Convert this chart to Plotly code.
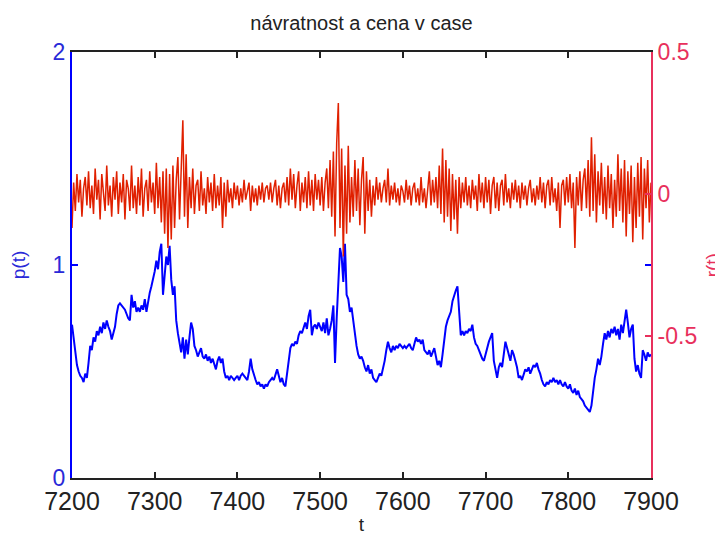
import plotly.graph_objects as go

# time axis: every second step from 7200 to 7900
t_start, t_step = 7200, 2

# price p(t)
price = [
    0.72, 0.66, 0.58, 0.53, 0.50, 0.48, 0.47, 0.45, 0.49, 0.47,
    0.54, 0.62, 0.60, 0.66, 0.64, 0.69, 0.67, 0.71, 0.68, 0.73,
    0.70, 0.74, 0.71, 0.69, 0.65, 0.68, 0.71, 0.77, 0.81, 0.82,
    0.81, 0.80, 0.79, 0.77, 0.75, 0.74, 0.86, 0.80, 0.83, 0.78,
    0.80, 0.78, 0.81, 0.79, 0.84, 0.78, 0.83, 0.87, 0.90, 0.93,
    0.97, 1.02, 0.98, 1.06, 1.10, 0.86, 0.95, 1.04, 1.00, 1.09,
    0.93, 0.86, 0.90, 0.74, 0.68, 0.63, 0.59, 0.66, 0.56, 0.65,
    0.58, 0.66, 0.73, 0.70, 0.62, 0.60, 0.57, 0.59, 0.61, 0.57,
    0.56, 0.58, 0.55, 0.57, 0.54, 0.56, 0.53, 0.51, 0.55, 0.57,
    0.54, 0.56, 0.50, 0.47, 0.48, 0.46, 0.48, 0.47, 0.46, 0.47,
    0.48, 0.46, 0.48, 0.49, 0.48, 0.47, 0.46, 0.50, 0.56, 0.51,
    0.48, 0.46, 0.44, 0.45, 0.43, 0.44, 0.42, 0.44, 0.43, 0.45,
    0.46, 0.47, 0.46, 0.49, 0.51, 0.48, 0.45, 0.47, 0.44, 0.43,
    0.50, 0.56, 0.61, 0.63, 0.62, 0.64, 0.63, 0.67, 0.69, 0.68,
    0.71, 0.73, 0.70, 0.76, 0.79, 0.67, 0.71, 0.72, 0.70, 0.73,
    0.71, 0.69, 0.73, 0.68, 0.75, 0.67, 0.70, 0.74, 0.81, 0.54,
    0.75, 0.96, 1.08, 1.04, 0.92, 1.10, 0.86, 0.84, 0.78, 0.80,
    0.74, 0.66, 0.62, 0.58, 0.56, 0.57, 0.55, 0.52, 0.50, 0.53,
    0.49, 0.51, 0.47, 0.46, 0.45, 0.47, 0.49, 0.48, 0.51, 0.55,
    0.60, 0.64, 0.61, 0.59, 0.62, 0.60, 0.62, 0.61, 0.63, 0.62,
    0.61, 0.62, 0.61, 0.62, 0.63, 0.61, 0.60, 0.63, 0.66, 0.64,
    0.65, 0.63, 0.65, 0.60, 0.59, 0.58, 0.60, 0.57, 0.59, 0.61,
    0.57, 0.53, 0.55, 0.52, 0.58, 0.66, 0.71, 0.74, 0.76, 0.78,
    0.83, 0.86, 0.88, 0.90, 0.78, 0.67, 0.69, 0.67, 0.69, 0.68,
    0.70, 0.69, 0.72, 0.66, 0.63, 0.62, 0.60, 0.58, 0.56, 0.55,
    0.58, 0.62, 0.64, 0.66, 0.68, 0.55, 0.50, 0.47, 0.52, 0.54,
    0.52, 0.58, 0.64, 0.61, 0.58, 0.55, 0.60, 0.58, 0.55, 0.52,
    0.47, 0.48, 0.46, 0.49, 0.51, 0.50, 0.52, 0.49, 0.51, 0.53,
    0.52, 0.54, 0.51, 0.49, 0.46, 0.44, 0.43, 0.45, 0.44, 0.46,
    0.45, 0.47, 0.45, 0.46, 0.44, 0.46, 0.44, 0.43, 0.45, 0.43,
    0.42, 0.44, 0.41, 0.40, 0.42, 0.39, 0.41, 0.38, 0.37, 0.36,
    0.34, 0.33, 0.32, 0.31, 0.34, 0.41, 0.47, 0.51, 0.56, 0.53,
    0.57, 0.63, 0.68, 0.65, 0.69, 0.66, 0.70, 0.68, 0.71, 0.67,
    0.70, 0.65, 0.72, 0.68, 0.75, 0.79, 0.73, 0.66, 0.70, 0.72,
    0.56, 0.50, 0.53, 0.49, 0.47, 0.60, 0.58, 0.55, 0.59, 0.57,
    0.58,
]

# return r(t)
returns = [
    -0.12, 0.04, -0.06, 0.07, -0.03, 0.05, -0.08, 0.02, 0.06, -0.04,
    0.08, -0.05, 0.03, -0.07, 0.09, -0.02, 0.05, -0.09, 0.07, 0.01,
    -0.06, 0.10, -0.04, 0.03, -0.08, 0.06, -0.02, 0.08, -0.07, 0.04,
    -0.03, 0.07, -0.09, 0.05, 0.02, -0.06, 0.10, -0.05, 0.03, -0.07,
    0.06, -0.04, 0.09, -0.08, 0.02, 0.05, -0.06, 0.08, -0.03, 0.04,
    -0.07, 0.11, -0.05, 0.06, -0.10, 0.08, -0.14, 0.09, -0.19, 0.07,
    -0.16, 0.10, -0.12, 0.05, 0.13, -0.09, 0.07, 0.26, -0.08, 0.14,
    -0.12, 0.06, -0.05, 0.09, -0.07, 0.03, 0.05, -0.06, 0.08, -0.04,
    0.02, -0.07, 0.06, -0.03, 0.04, -0.06, 0.07, -0.05, 0.03, -0.04,
    0.06, -0.12, 0.04, -0.08, 0.05, -0.03, 0.02, -0.05, 0.04, -0.02,
    0.03, -0.04, 0.02, -0.03, 0.05, -0.02, 0.01, 0.04, -0.06, 0.03,
    -0.03, 0.02, -0.04, 0.03, -0.02, 0.04, -0.03, 0.02, 0.03, -0.02,
    0.04, -0.03, 0.02, 0.05, -0.04, 0.03, -0.05, 0.02, 0.04, -0.03,
    0.06, -0.04, 0.09, -0.02, 0.07, -0.05, 0.03, 0.08, -0.06, 0.04,
    -0.03, 0.06, -0.05, 0.08, -0.04, 0.05, -0.06, 0.07, -0.02, 0.05,
    -0.04, 0.06, -0.06, 0.04, 0.09, -0.05, 0.12, -0.08, 0.15, -0.15,
    0.18, 0.32, -0.12, 0.16, -0.22, 0.10, -0.14, 0.17, -0.10, 0.06,
    -0.08, 0.12, -0.06, 0.09, -0.11, 0.05, 0.13, -0.14, 0.08, -0.06,
    0.05, -0.08, 0.03, -0.04, 0.06, -0.02, 0.04, -0.03, 0.02, 0.05,
    -0.03, 0.09, -0.04, 0.03, -0.02, 0.04, -0.03, 0.02, -0.04, 0.03,
    0.01, -0.03, 0.05, -0.02, 0.03, -0.04, 0.02, 0.04, -0.03, 0.02,
    -0.04, 0.06, -0.03, 0.02, -0.05, 0.03, 0.08, -0.04, 0.05, -0.03,
    0.06, -0.05, 0.10, -0.07, 0.16, -0.10, 0.12, -0.08, 0.09, -0.13,
    0.07, -0.09, 0.05, -0.14, 0.06, -0.05, 0.04, -0.03, 0.06, -0.04,
    0.03, -0.05, 0.05, -0.02, 0.03, -0.06, 0.07, -0.03, 0.04, -0.05,
    0.06, -0.03, 0.05, -0.07, 0.03, 0.06, -0.05, 0.04, -0.06, 0.03,
    0.05, -0.04, 0.07, -0.03, 0.02, -0.05, 0.04, -0.02, 0.05, -0.03,
    0.03, -0.05, 0.04, -0.02, 0.03, -0.04, 0.02, 0.05, -0.03, 0.02,
    -0.04, 0.03, -0.02, 0.06, -0.03, 0.04, -0.05, 0.03, 0.05, -0.04,
    0.06, -0.03, 0.02, -0.06, 0.04, -0.12, 0.03, 0.05, -0.04, 0.06,
    -0.03, 0.07, -0.05, 0.04, -0.19, 0.06, -0.04, 0.08, -0.06, 0.05,
    0.09, -0.05, 0.12, -0.08, 0.20, -0.06, 0.14, -0.10, 0.08, -0.04,
    0.11, -0.07, 0.06, -0.09, 0.10, -0.05, 0.07, -0.12, 0.05, -0.08,
    0.14, -0.06, 0.09, -0.10, 0.12, -0.15, 0.08, -0.07, 0.10, -0.17,
    0.06, -0.12, 0.11, -0.08, 0.13, -0.16, 0.09, -0.05, 0.12, -0.10,
    0.04,
]

t = [t_start + t_step * i for i in range(len(price))]

x_ticks = [7200, 7300, 7400, 7500, 7600, 7700, 7800, 7900]
p_ticks = [0, 1, 2]
r_ticks = [-0.5, 0, 0.5]
r_tick_text = ["-0.5", "0", "0.5"]

BLUE = "#0000ff"
RED_LINE = "#e02000"
RED_AXIS = "#e8305c"
FONT = "Liberation Sans, Arial, sans-serif"

fig = go.Figure()
fig.add_trace(go.Scatter(x=t, y=price, mode="lines", yaxis="y",
                         line=dict(color=BLUE, width=2), showlegend=False))
fig.add_trace(go.Scatter(x=t, y=returns, mode="lines", yaxis="y2",
                         line=dict(color=RED_LINE, width=1.5), showlegend=False))

# right-hand axis label sits at the page edge, partly outside the figure
fig.add_annotation(text="r(t)", xref="paper", yref="paper", x=1.106, y=0.5,
                   xanchor="center", yanchor="middle", textangle=-90,
                   showarrow=False, font=dict(size=19, color=RED_AXIS))

fig.update_layout(
    width=715, height=537,
    margin=dict(l=72, r=64, t=52, b=59, autoexpand=False),
    paper_bgcolor="white", plot_bgcolor="white",
    font=dict(family=FONT),
    title=dict(text="návratnost a cena v case", x=0.5056, xanchor="center",
               y=0.958, yanchor="middle", font=dict(size=20, color="#222222")),
    xaxis=dict(range=[7200, 7900], tickvals=x_ticks, ticks="inside", ticklen=6,
               tickwidth=1.5, tickcolor="#222222", showline=True, linewidth=2,
               linecolor="#222222", mirror="ticks", showgrid=False, zeroline=False,
               tickfont=dict(size=25, color="#222222"),
               title=dict(text="t", font=dict(size=19, color="#222222"), standoff=4)),
    yaxis=dict(range=[0, 2], tickvals=p_ticks, ticks="inside", ticklen=6,
               tickwidth=1.5, tickcolor=BLUE, showline=True, linewidth=2,
               linecolor=BLUE, mirror="ticks", showgrid=False, zeroline=False,
               tickfont=dict(size=23, color="#2a2ad8"),
               title=dict(text="p(t)", font=dict(size=19, color="#2a2ad8"), standoff=22)),
    yaxis2=dict(range=[-1, 0.5], tickvals=r_ticks, ticktext=r_tick_text,
                overlaying="y", side="right", ticks="inside", ticklen=6,
                tickwidth=1.5, tickcolor=RED_AXIS, showline=True, linewidth=2,
                linecolor=RED_AXIS, showgrid=False, zeroline=False,
                tickfont=dict(size=23, color=RED_AXIS)),
)

fig.write_html("out.html")
